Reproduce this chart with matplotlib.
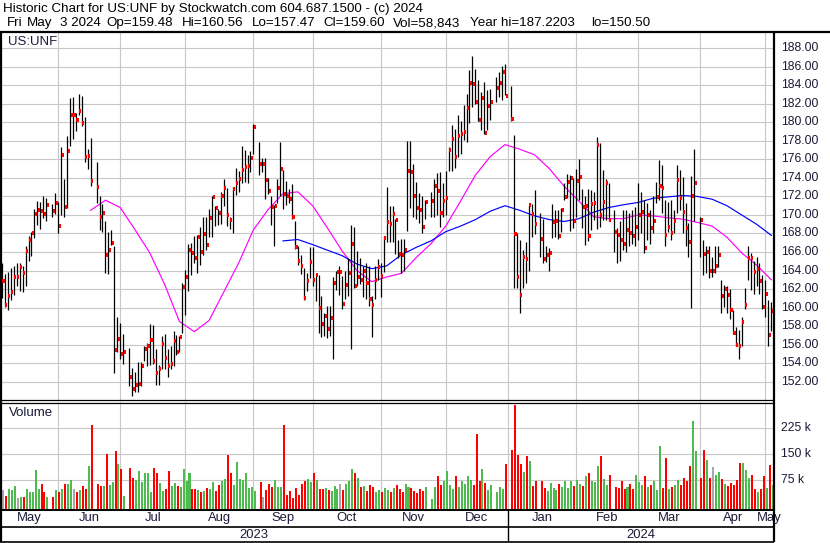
import numpy as np
import pandas as pd
import matplotlib
matplotlib.use('Agg')
import matplotlib.pyplot as plt
from matplotlib.lines import Line2D

plt.rcParams['font.family'] = ['Liberation Sans', 'DejaVu Sans']

W, H = 830, 543

# ---------------------------------------------------------------- data
start = '2023-05-05'
end = '2024-05-03'
holidays = ['2023-05-29', '2023-06-19', '2023-07-04', '2023-09-04', '2023-11-23',
            '2023-12-25', '2024-01-01', '2024-01-15', '2024-02-19', '2024-03-29']

# daily high / low / close, one row per month
highs = [
    164.8, 163.6, 163.8, 164.3, 164.5, 164.8, 164.8, 164.5, 166.6, 167.7, 168.2, 170.6, 171.5, 171.4, 172.1, 171.8, 171.2, 172.4,
    171.4, 177.3, 173.9, 178.5, 182.6, 182.7, 181.0, 183.1, 182.8, 180.6, 177.1, 178.3, 175.7, 172.0, 171.2, 169.3, 168.2, 168.4, 166.7, 159.0, 158.3,
    157.2, 155.6, 153.5, 153.0, 154.1, 154.1, 155.8, 156.2, 158.2, 158.1, 155.5, 153.8, 156.9, 157.2, 155.5, 155.8, 157.5, 157.0, 156.9, 162.7,
    164.1, 166.9, 167.0, 167.7, 167.8, 168.7, 169.8, 169.8, 170.6, 172.0, 171.0, 170.6, 172.5, 173.9, 172.9, 169.8, 173.0, 175.1, 174.8, 177.4, 177.0, 176.5, 176.9,
    179.8, 177.9, 176.1, 176.2, 174.0, 172.0, 171.1, 173.9, 177.9, 174.9, 173.7, 172.8, 173.3, 169.3, 166.7, 165.7, 164.3, 163.7, 166.5, 166.5,
    163.6, 163.5, 161.2, 159.4, 160.2, 160.2, 163.3, 164.0, 164.5, 163.4, 164.0, 165.3, 168.9, 168.7, 166.1, 165.3, 164.5, 164.8, 164.5, 161.3, 164.5, 165.2,
    164.8, 167.7, 173.0, 171.0, 171.0, 169.6, 167.3, 167.4, 167.4, 178.0, 178.0, 175.5, 173.6, 172.4, 172.0, 171.6, 172.5, 173.9, 174.5, 174.6, 173.4,
    174.8, 177.3, 179.7, 179.3, 180.8, 180.2, 181.9, 183.1, 185.7, 187.22, 185.8, 184.6, 183.3, 184.4, 183.5, 183.6, 184.9, 185.4, 186.1, 186.3,
    183.9, 178.6, 168.0, 167.3, 166.2, 167.1, 171.1, 171.2, 172.7, 170.2, 169.6, 166.7, 166.4, 171.2, 170.5, 170.5, 170.7, 173.4, 174.4, 174.3, 174.0,
    175.0, 176.0, 172.8, 172.0, 172.8, 172.7, 172.5, 178.4, 177.8, 174.9, 173.9, 173.4, 170.5, 168.6, 169.3, 170.5, 170.5, 170.2, 170.5, 170.9,
    173.4, 172.5, 171.6, 171.3, 170.5, 172.0, 173.6, 175.9, 175.4, 171.6, 171.4, 171.6, 170.5, 175.4, 174.9, 174.1, 171.3, 169.1, 174.2, 177.1,
    169.8, 167.3, 166.6, 166.6, 165.5, 166.6, 166.6, 163.0, 162.4, 162.3, 162.0, 159.7, 157.9, 157.6, 159.0, 162.1, 166.6, 165.9, 165.0, 165.5, 164.8, 163.5,
    163.0, 160.8, 160.56,
]
lows = [
    161.0, 160.1, 159.7, 160.8, 161.4, 162.3, 161.8, 161.7, 162.3, 165.0, 165.6, 167.5, 168.9, 168.5, 169.7, 169.4, 169.8, 170.1,
    168.0, 170.0, 169.8, 170.8, 177.4, 178.2, 179.1, 180.8, 179.6, 175.7, 175.0, 173.1, 171.3, 168.4, 168.2, 163.7, 163.6, 166.8, 152.9, 155.2, 154.4,
    153.9, 151.5, 150.5, 150.9, 150.9, 151.5, 154.2, 153.7, 153.8, 153.9, 151.6, 151.6, 153.4, 153.4, 152.5, 153.4, 153.7, 154.9, 155.2, 157.3,
    159.2, 161.8, 163.5, 164.8, 163.7, 164.6, 165.7, 166.2, 167.6, 167.6, 168.8, 168.9, 169.0, 171.0, 168.8, 168.5, 168.0, 172.2, 172.5, 173.5, 173.6, 173.4, 174.6,
    176.6, 174.3, 174.6, 171.7, 172.3, 168.9, 166.7, 171.3, 172.0, 170.6, 171.1, 171.3, 169.6, 166.3, 164.6, 163.6, 160.8, 161.8, 163.2, 162.3,
    160.7, 157.3, 156.8, 156.9, 156.7, 156.9, 154.4, 161.9, 161.4, 159.8, 160.9, 161.3, 155.5, 162.1, 162.3, 162.5, 161.1, 160.9, 160.2, 156.8, 160.9, 163.0,
    161.1, 163.8, 167.1, 167.1, 167.1, 165.8, 165.3, 163.7, 164.0, 168.3, 170.7, 169.8, 169.6, 169.1, 168.0, 169.6, 169.8, 169.8, 170.0, 168.7, 169.8,
    170.0, 174.8, 174.7, 175.1, 176.3, 176.6, 178.1, 177.9, 179.9, 181.7, 182.0, 180.1, 179.2, 178.7, 179.2, 180.3, 182.2, 182.7, 182.4, 183.0,
    180.1, 162.1, 162.1, 159.4, 162.1, 162.7, 163.9, 167.6, 167.9, 165.5, 164.8, 164.9, 163.9, 167.5, 167.6, 167.4, 168.2, 171.6, 171.8, 168.3, 168.6,
    169.8, 171.6, 168.6, 166.8, 167.2, 168.4, 169.5, 168.5, 168.7, 169.5, 169.5, 169.3, 166.0, 164.8, 165.0, 166.2, 166.0, 166.6, 166.9, 166.6,
    167.3, 168.0, 165.9, 167.3, 166.9, 168.0, 171.3, 171.6, 170.2, 166.6, 168.2, 167.3, 168.0, 170.2, 170.5, 168.0, 166.6, 165.5, 160.0, 169.3,
    165.5, 163.5, 163.7, 163.2, 163.3, 163.7, 164.4, 159.4, 160.1, 159.4, 158.8, 157.2, 155.9, 154.5, 155.8, 159.9, 163.0, 161.9, 161.5, 162.3, 161.5, 159.9,
    159.0, 155.9, 157.47,
]
closes = [
    162.9, 160.3, 161.3, 161.7, 163.3, 163.3, 164.4, 163.7, 166.1, 167.3, 168.1, 170.1, 170.5, 170.4, 170.1, 171.1, 170.4, 171.3,
    168.8, 176.5, 170.9, 176.9, 180.8, 180.8, 180.3, 181.2, 179.9, 176.3, 176.4, 173.7, 173.0, 169.8, 170.2, 165.7, 166.2, 167.0, 155.4, 156.6, 155.0,
    155.2, 152.5, 151.2, 151.6, 151.7, 153.7, 155.5, 155.9, 156.5, 154.2, 152.9, 153.4, 156.1, 154.6, 153.7, 153.9, 156.4, 155.2, 156.8, 162.2,
    163.3, 166.2, 165.9, 165.3, 167.6, 166.0, 167.9, 166.8, 169.7, 171.9, 170.7, 170.2, 172.0, 172.9, 170.0, 169.5, 172.8, 173.5, 173.9, 174.9, 175.2, 175.3, 176.1,
    179.5, 175.5, 175.5, 173.8, 172.6, 170.9, 171.0, 172.9, 175.0, 172.3, 172.0, 171.7, 169.8, 166.5, 165.0, 164.5, 161.0, 162.9, 164.9, 163.0,
    163.5, 160.0, 158.2, 159.1, 157.7, 158.9, 162.7, 163.8, 163.8, 160.4, 162.4, 163.7, 166.9, 162.3, 163.3, 163.0, 164.0, 162.7, 160.9, 160.3, 163.0, 164.4,
    163.4, 167.5, 169.2, 169.0, 170.1, 169.5, 165.8, 165.7, 166.2, 174.7, 174.6, 172.0, 170.8, 170.5, 168.7, 171.4, 171.5, 173.1, 172.6, 170.2, 171.5,
    171.8, 177.0, 178.2, 176.3, 178.5, 178.7, 179.0, 181.5, 184.2, 184.1, 182.2, 180.3, 182.6, 178.9, 181.8, 182.2, 183.7, 184.2, 185.4, 182.9,
    180.4, 167.9, 163.3, 161.4, 165.5, 165.2, 171.1, 170.1, 169.0, 167.4, 165.2, 165.7, 165.9, 169.2, 169.3, 167.7, 170.5, 171.9, 173.6, 174.0, 169.4,
    173.7, 174.1, 170.9, 171.0, 167.7, 171.2, 171.3, 177.6, 170.0, 171.4, 173.5, 169.5, 168.2, 167.8, 167.3, 166.9, 168.4, 168.1, 167.7, 168.7,
    170.0, 170.3, 166.4, 170.0, 168.6, 169.4, 171.9, 173.1, 172.9, 167.8, 168.7, 168.1, 169.3, 173.8, 171.8, 170.3, 168.6, 167.1, 172.1, 173.4,
    169.5, 165.8, 166.0, 164.0, 164.0, 164.5, 165.7, 161.2, 162.0, 161.4, 159.7, 157.3, 156.0, 155.8, 158.4, 160.3, 165.4, 165.3, 163.8, 164.2, 162.9, 160.1,
    161.5, 157.0, 159.60,
]
# volume in thousands of shares
volume = [
    45, 28, 48, 45, 57, 23, 25, 25, 48, 38, 40, 104, 47, 63, 39, 25, 25, 45,
    39, 48, 63, 63, 75, 48, 38, 45, 58, 48, 114, 235, 62, 58, 58, 149, 60, 68, 159, 120, 106,
    28, 110, 80, 75, 100, 67, 93, 93, 39, 108, 93, 65, 41, 47, 101, 58, 65, 57, 54, 106,
    70, 93, 48, 48, 44, 39, 41, 51, 48, 67, 41, 59, 70, 78, 146, 93, 59, 126, 78, 75, 93, 51, 54,
    41, 67, 25, 44, 62, 55, 75, 55, 54, 233, 30, 41, 22, 51, 32, 62, 70, 78, 67, 93,
    75, 48, 48, 51, 44, 41, 58, 48, 62, 44, 62, 70, 106, 93, 81, 54, 58, 41, 60, 55, 39, 44,
    39, 51, 45, 38, 52, 60, 48, 40, 62, 55, 50, 42, 35, 48, 42, 55, 20, 55, 87, 60, 70,
    99, 60, 48, 85, 55, 70, 62, 85, 75, 60, 207, 70, 107, 65, 45, 60, 40, 55, 48, 121,
    162, 293, 148, 121, 97, 145, 128, 58, 72, 72, 50, 42, 65, 52, 45, 62, 55, 70, 50, 70, 58,
    75, 62, 58, 85, 95, 72, 68, 114, 145, 78, 60, 90, 55, 52, 72, 48, 55, 62, 48, 90,
    68, 60, 87, 55, 60, 70, 45, 172, 52, 138, 48, 55, 60, 75, 60, 80, 70, 114, 244, 157,
    80, 162, 133, 80, 111, 90, 97, 78, 62, 58, 65, 60, 75, 123, 123, 104, 80, 89, 48, 40, 48, 85,
    52, 118, 58.843,
]

# moving averages, sampled on Fridays
ma_short_start = '2023-06-16'
ma_short = [170.5, 171.6, 170.8, 168.4, 165.9, 162.5, 158.5, 157.4, 158.6, 161.7, 164.8, 168.4,
            170.6, 172.3, 172.5, 171.0, 168.6, 166.1, 164.0, 162.8, 163.3, 163.7, 165.4, 166.9,
            168.8, 171.5, 174.3, 176.3, 177.6, 177.1, 176.5, 175.0, 173.1, 171.5, 169.8, 169.6,
            169.6, 170.0, 169.9, 169.7, 169.55, 169.2, 168.8, 167.6, 165.9, 164.6, 163.0]
ma_long_start = '2023-09-15'
ma_long = [167.2, 167.35, 166.8, 166.2, 165.6, 164.7, 164.2, 164.5, 165.7, 166.5, 167.2, 168.2,
           168.8, 169.5, 170.4, 171.0, 170.5, 169.9, 169.5, 169.3, 169.6, 170.3, 170.8, 171.1,
           171.35, 171.8, 171.95, 172.1, 172.0, 171.7, 171.0, 170.0, 169.0, 167.8]

price_ticks = list(range(152, 189, 2))
vol_ticks = [75, 150, 225]
month_names = ['May', 'Jun', 'Jul', 'Aug', 'Sep', 'Oct', 'Nov', 'Dec',
               'Jan', 'Feb', 'Mar', 'Apr', 'May']
month_starts = ['2023-05-01', '2023-06-01', '2023-07-01', '2023-08-01', '2023-09-01',
                '2023-10-01', '2023-11-01', '2023-12-01', '2024-01-01', '2024-02-01',
                '2024-03-01', '2024-04-01', '2024-05-01']

header1 = 'Historic Chart for US:UNF by Stockwatch.com 604.687.1500 - (c) 2024'
header2 = [(7, 'Fri'), (27, 'May'), (60, '3 2024'), (106, 'Op=159.48'), (182, 'Hi=160.56'),
           (252, 'Lo=157.47'), (323, 'Cl=159.60'), (393, 'Vol=58,843'),
           (470, 'Year hi=187.2203'), (591, 'lo=150.50')]

# ---------------------------------------------------------------- x positions (weekday scale)
days = pd.bdate_range(start, end)
days = days[~days.isin(pd.to_datetime(holidays))]
d0 = np.datetime64(start)
x = np.busday_count(d0, days.values.astype('datetime64[D]')).astype(float)
highs = np.array(highs); lows = np.array(lows); closes = np.array(closes)
volume = np.array(volume) * 1000
assert len(x) == len(highs) == len(lows) == len(closes) == len(volume)

chg = np.diff(closes, prepend=closes[0])
vcol = np.where(chg > 0, '#4fba4f', np.where(chg < 0, '#ff0000', '#a8a8a8'))

def weekly(first, vals):
    dts = pd.date_range(first, periods=len(vals), freq='W-FRI')
    return np.busday_count(d0, dts.values.astype('datetime64[D]')).astype(float)

grid = []
for m in month_starts[1:]:
    g = np.busday_offset(np.datetime64(m), 0, roll='backward')
    grid.append(float(np.busday_count(d0, g)))

XL = (-0.63, 260.9)
GRID = '#c8c8c8'
TXT = '#1a1a38'

# ---------------------------------------------------------------- figure
fig = plt.figure(figsize=(W / 100, H / 100), dpi=100)

def fx(px):
    return px / W

def fy(py):
    return 1 - py / H

def fline(x0, y0, x1, y1, lw=1.0, color='black'):
    fig.add_artist(Line2D([fx(x0), fx(x1)], [fy(y0), fy(y1)], lw=lw, color=color,
                          transform=fig.transFigure, solid_capstyle='butt'))

AX_W = 774
ax = fig.add_axes([0, fy(400), fx(AX_W), (400 - 33) / H])
ax.set_xlim(*XL)
ax.set_ylim(150.02, 189.65)
ax.axis('off')
for p in price_ticks:
    ax.axhline(p, color=GRID, lw=0.8, zorder=0)
    ax.text(fx(781) / fx(AX_W), p, '%.2f' % p, transform=ax.get_yaxis_transform(),
            ha='left', va='center', fontsize=8.7, color=TXT, clip_on=False)
for g in grid:
    ax.axvline(g, color=GRID, lw=0.8, zorder=0)

ax.vlines(x, lows, highs, color='black', lw=0.9, zorder=3)
ax.hlines(closes, x + 0.2, x + 0.9, color='#ff0000', lw=1.45, zorder=4, antialiased=False)
ax.plot(weekly(ma_short_start, ma_short), ma_short, color='#ff00ff', lw=0.85, zorder=2)
ax.plot(weekly(ma_long_start, ma_long), ma_long, color='#0000ff', lw=0.85, zorder=2)
fig.text(fx(8), fy(42), 'US:UNF', fontsize=9.5, color=TXT, va='center', ha='left')

# volume panel
vax = fig.add_axes([0, fy(509), fx(AX_W), (509 - 402) / H])
vax.set_xlim(*XL)
vlo, vhi = -10000, 300400
vax.set_ylim(vlo, vhi)
vax.axis('off')
for v in vol_ticks:
    vax.axhline(v * 1000, color=GRID, lw=0.8, zorder=0)
    vax.text(fx(781) / fx(AX_W), v * 1000, '%d k' % v, transform=vax.get_yaxis_transform(),
             ha='left', va='center', fontsize=8.7, color=TXT, clip_on=False)
for g in grid:
    vax.axvline(g, color=GRID, lw=0.8, zorder=0)
vax.bar(x + 0.4, volume - vlo, bottom=vlo, width=0.68, color=vcol, linewidth=0,
        zorder=2, antialiased=False)
fig.text(fx(9), fy(413), 'Volume', fontsize=9.5, color=TXT, va='center', ha='left')

# month / year rows
dax = fig.add_axes([0, fy(542), fx(AX_W), (542 - 509) / H])
dax.set_xlim(*XL)
dax.set_ylim(0, 33)
dax.axis('off')
edges = [XL[0]] + grid + [XL[1]]
for i, name in enumerate(month_names):
    dax.text((edges[i] + edges[i + 1]) / 2, 33 - 9, name, ha='center', va='center',
             fontsize=9.4, color=TXT, clip_on=False)
jan = grid[7]
dax.text((XL[0] + jan) / 2, 33 - 26, '2023', ha='center', va='center', fontsize=9.4, color=TXT)
dax.text((jan + XL[1]) / 2, 33 - 26, '2024', ha='center', va='center', fontsize=9.4, color=TXT)
dax.plot([jan, jan], [0, 33], color='black', lw=1.0)

# frame lines
fline(0, 32, W, 32, lw=1.6)
fline(1, 32, 1, 542, lw=1.6)
fline(774, 32, 774, 542, lw=1.6)
fline(0, 400, 774, 400, lw=0.9)
fline(0, 402.5, 774, 402.5, lw=0.9)
fline(0, 509.5, 774, 509.5, lw=1.4)
fline(0, 527, 774, 527, lw=1.2)
fline(0, 541.5, 774, 541.5, lw=1.2)

fig.text(fx(3), fy(9), header1, fontsize=9.6, color='black', va='center', ha='left')
for px, tok in header2:
    fig.text(fx(px), fy(23), tok, fontsize=9.6, color='black', va='center', ha='left')

fig.savefig('out.png', dpi=100)
